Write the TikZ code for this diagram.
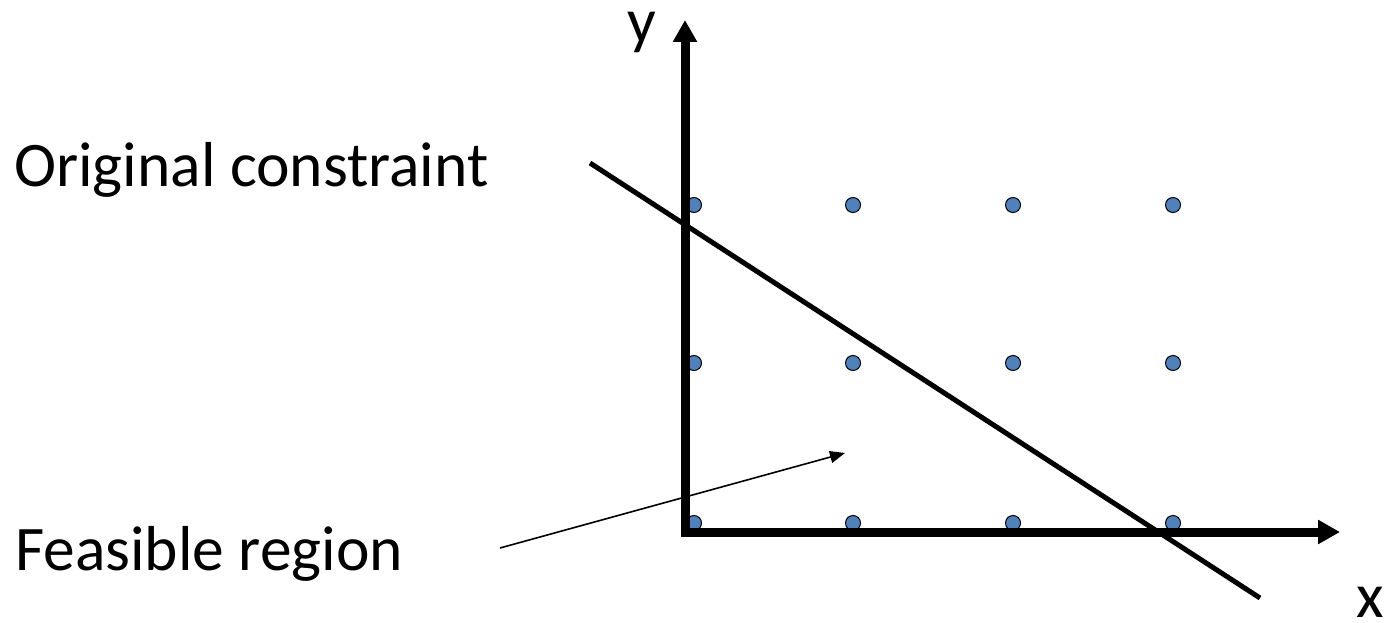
\documentclass[tikz,border=0pt]{standalone}
\usepackage{fontspec}
\setmainfont{Carlito}
\usepackage{tikz}
\usetikzlibrary{arrows.meta,positioning}
\definecolor{DotBlue}{HTML}{4F81BD}

\begin{document}
\begin{tikzpicture}[x=1pt,y=-1pt,
    lattice/.style={circle,draw=black,line width=1pt,fill=DotBlue,inner sep=0pt,minimum size=15pt},
    axis/.style={line width=9pt,-{Triangle[length=22pt,width=23pt]}},
    constraint/.style={line width=5pt},
    pointer/.style={line width=1.6pt,-{Triangle[length=15pt,width=12pt]}},
    label/.style={inner sep=0pt,anchor=base west,font=\fontsize{63.5}{76}\selectfont}
]
\useasboundingbox (0,0) rectangle (1389,623);
% integer points
\foreach \i/\x in {0/694,1/853,2/1013,3/1173}{
  \foreach \j/\y in {0/523,1/363,2/205}{
    \node[lattice] (p\i\j) at (\x,\y) {};
  }
}
\coordinate (O) at (685,532);
\coordinate (ytip) at (685,20);
\coordinate (xtip) at (1340,532);
\draw[axis] (685,536.5) -- (ytip);
\draw[axis] (O) -- (xtip);
\node[label] (ylab) at (627,43) {y};
\node[label] (xlab) at (1356,617) {x};
% constraint line
\coordinate (c1) at (590,163);
\coordinate (c2) at (1260,598);
\draw[constraint] (c1) -- (c2);
\node[label] (orig) at (14,186) {Original constraint};
\node[label] (feas) at (15,570) {Feasible region};
\coordinate (fstart) at (500,548);
\coordinate (fend) at (845,453);
\draw[pointer] (fstart) -- (fend);
\end{tikzpicture}
\end{document}
